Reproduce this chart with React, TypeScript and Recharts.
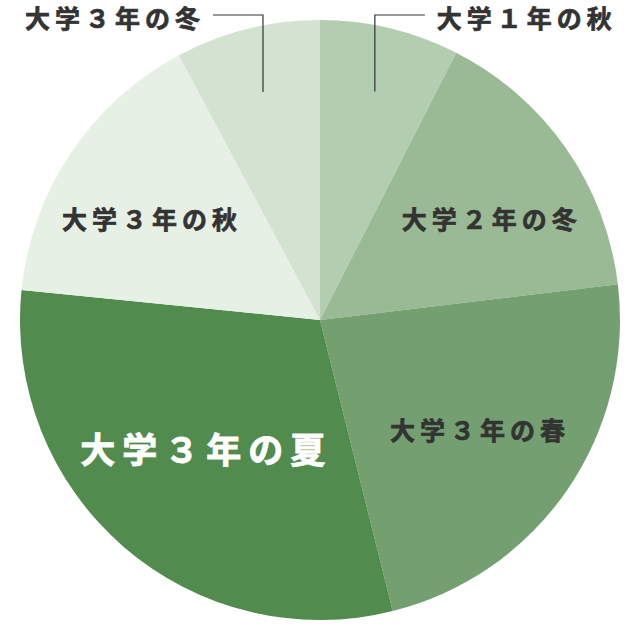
import React from "react";
import { PieChart, Pie, Cell } from "recharts";

const names = ["大学１年の秋", "大学２年の冬", "大学３年の春", "大学３年の夏", "大学３年の秋", "大学３年の冬"];
const values = [7.5, 15.6, 23, 30.5, 15.6, 7.8];
const colors = ["#b3cdb0", "#9aba95", "#74a071", "#518b4d", "#e7f0e5", "#d4e3d1"];
const outside = [true, false, false, false, false, true];
const labelRadius = [235, 198, 192, 173, 198, 235];
const labelAngleShift = [0, 4, 0, 1.6, -3, 0];

const data = names.map((name, i) => ({ name, value: values[i] }));
const RAD = Math.PI / 180;
const FONT = "'Noto Sans CJK JP', 'Noto Sans', sans-serif";

const renderLabel = (props: any) => {
  const { cx, cy, midAngle, index, name } = props;
  const r = labelRadius[index];
  const a = midAngle - labelAngleShift[index];
  const x = cx + r * Math.cos(-a * RAD);
  const y = cy + r * Math.sin(-a * RAD);
  if (outside[index]) {
    const right = x > cx;
    const topY = cy - 305;
    const endX = right ? x + 50 : x - 50;
    const tx = right ? endX + 12 : endX - 8;
    return (
      <g key={`l-${index}`}>
        <polyline points={`${x},${y} ${x},${topY} ${endX},${topY}`} fill="none" stroke="#333" strokeWidth={1.2} />
        <text x={tx} y={topY + 2} textAnchor={right ? "start" : "end"} dominantBaseline="central" fill="#333" stroke="#333" strokeWidth={0.7} fontSize={25} fontWeight={700} fontFamily={FONT} style={{ letterSpacing: "5px" }}>
          {name}
        </text>
      </g>
    );
  }
  const big = index === 3;
  const col = big ? "#ffffff" : "#333";
  return (
    <text key={`l-${index}`} x={x + (big ? 3 : 2)} y={y} textAnchor="middle" dominantBaseline="central" fill={col} stroke={col} strokeWidth={big ? 0.9 : 0.7} fontSize={big ? 35 : 25} fontWeight={700} fontFamily={FONT} style={{ letterSpacing: big ? "7px" : "5px" }}>
      {name}
    </text>
  );
};

export default function App() {
  return (
    <div style={{ position: "absolute", left: 0, top: 0, width: 640, height: 640, background: "#fff" }}>
      <PieChart width={640} height={640} margin={{ top: 0, right: 0, bottom: 0, left: 0 }}>
        <Pie
          data={data}
          dataKey="value"
          nameKey="name"
          cx={320}
          cy={320}
          outerRadius={300}
          startAngle={90}
          endAngle={-270}
          stroke="none"
          labelLine={false}
          label={renderLabel}
          isAnimationActive={false}
        >
          {data.map((d, i) => (
            <Cell key={d.name} fill={colors[i]} />
          ))}
        </Pie>
      </PieChart>
    </div>
  );
}
